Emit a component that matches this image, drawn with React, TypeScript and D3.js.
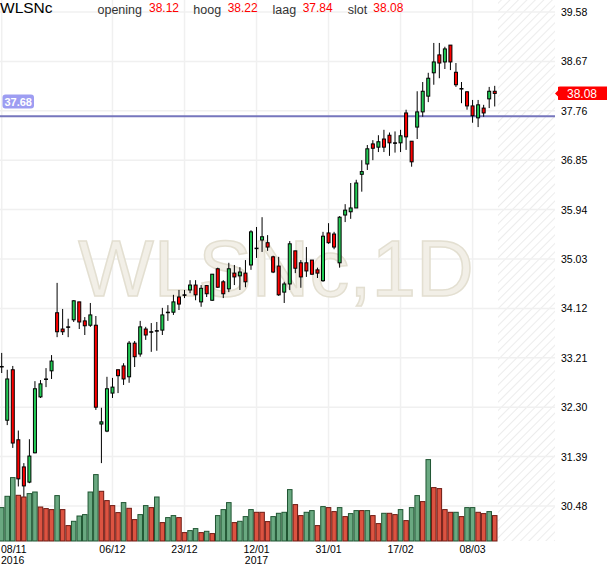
import React, { useEffect } from "react";
import * as d3 from "d3";

// chart size and plot area
const W = 610;
const H = 568;
const plotRight = 555;
const plotBottom = 541;

// trading days (Nov 2016 - Mar 2017), Boxing Day closed
const holidays = ["2016-12-26"];
const fmtKey = d3.timeFormat("%Y-%m-%d");
const dates = d3.timeDay
  .range(new Date(2016, 10, 8), new Date(2017, 2, 15))
  .filter((d) => d.getDay() % 6 !== 0 && !holidays.includes(fmtKey(d)))
  .map(fmtKey);

const tickDates = ["2016-11-08", "2016-12-06", "2016-12-23", "2017-01-12", "2017-01-31", "2017-02-17", "2017-03-08"];
const priceTicks = [30.48, 31.39, 32.3, 33.21, 34.12, 35.03, 35.94, 36.85, 37.76, 38.67, 39.58];

const open = [
  33.05, 32.06, 32.99, 31.70, 31.20, 30.92, 31.46, 32.49, 32.82, 32.97,
  34.04, 33.74, 33.78, 33.91, 34.24, 33.89, 33.81, 33.81, 31.99, 31.86,
  32.56, 32.99, 33.06, 32.86, 33.48, 33.28, 33.74, 33.69, 33.71, 33.72,
  34.05, 34.05, 34.33, 34.37, 34.46, 34.55, 34.24, 34.54, 34.27, 34.85,
  34.61, 34.48, 34.77, 34.72, 34.77, 34.92, 35.23, 35.38, 35.33, 35.07,
  34.90, 34.42, 34.57, 35.18, 34.96, 34.96, 35.01, 34.83, 34.63, 35.51,
  35.49, 34.96, 35.84, 35.90, 35.97, 36.59, 36.78, 37.15, 37.09, 37.24,
  37.31, 37.17, 37.17, 37.72, 37.20, 37.46, 37.74, 38.03, 38.46, 38.79,
  38.66, 38.97, 38.47, 38.17, 38.11, 37.85, 37.63, 37.81, 37.98, 38.12,
];
const high = [
  33.30, 32.99, 33.06, 31.87, 31.27, 31.71, 32.78, 32.80, 33.02, 33.26,
  34.59, 34.11, 33.93, 34.27, 34.24, 33.96, 34.22, 33.98, 32.29, 32.86,
  32.84, 32.99, 33.11, 33.52, 33.52, 33.89, 33.78, 33.85, 33.87, 34.13,
  34.18, 34.37, 34.46, 34.46, 34.64, 34.64, 34.55, 34.55, 34.75, 34.87,
  34.64, 34.96, 34.92, 34.88, 35.01, 35.56, 35.62, 35.80, 35.47, 35.09,
  35.07, 34.61, 35.36, 35.18, 35.01, 35.25, 35.01, 34.87, 35.53, 35.69,
  35.53, 35.82, 36.04, 36.43, 36.49, 36.85, 37.13, 37.22, 37.31, 37.41,
  37.36, 37.38, 37.41, 37.78, 37.20, 38.12, 38.29, 38.46, 39.01, 39.01,
  38.94, 38.97, 38.64, 38.29, 38.12, 37.96, 37.96, 37.87, 38.20, 38.22,
];
const low = [
  32.93, 31.97, 31.55, 30.84, 30.65, 30.90, 31.45, 32.47, 32.67, 32.82,
  33.59, 33.63, 33.59, 33.87, 33.74, 33.63, 33.78, 32.25, 31.27, 31.84,
  32.47, 32.56, 32.71, 32.75, 33.04, 33.23, 33.54, 33.32, 33.34, 33.63,
  33.89, 34.00, 34.09, 34.31, 34.40, 34.27, 34.15, 34.33, 34.26, 34.50,
  34.31, 34.42, 34.55, 34.46, 34.51, 34.83, 35.05, 35.16, 35.18, 34.77,
  34.35, 34.22, 34.46, 34.77, 34.50, 34.70, 34.74, 34.68, 34.61, 35.31,
  35.21, 34.87, 35.71, 35.77, 35.97, 36.27, 36.67, 36.85, 37.00, 37.00,
  36.93, 36.99, 37.00, 37.04, 36.73, 37.24, 37.65, 37.92, 38.24, 38.36,
  38.53, 38.51, 38.20, 37.90, 37.78, 37.54, 37.46, 37.65, 37.81, 37.84,
];
const close = [
  33.05, 32.82, 31.64, 30.98, 30.85, 31.40, 32.64, 32.73, 32.82, 33.15,
  33.69, 33.69, 33.78, 34.26, 33.87, 33.80, 34.00, 32.30, 32.03, 32.64,
  32.67, 32.88, 32.82, 33.48, 33.23, 33.78, 33.63, 33.69, 33.71, 34.00,
  34.05, 34.24, 34.20, 34.37, 34.55, 34.37, 34.49, 34.39, 34.75, 34.51,
  34.39, 34.85, 34.70, 34.79, 34.61, 35.53, 35.23, 35.44, 35.25, 34.79,
  34.37, 34.57, 35.31, 34.86, 34.70, 34.81, 34.75, 34.77, 35.45, 35.33,
  35.25, 35.80, 35.93, 35.97, 36.43, 36.64, 37.06, 37.07, 37.19, 37.09,
  37.17, 37.17, 37.30, 37.28, 36.82, 37.74, 38.12, 38.36, 38.66, 38.64,
  38.90, 38.66, 38.24, 38.17, 37.85, 37.67, 37.87, 37.72, 38.12, 38.08,
];
// volume in thousands
const volume = [
  334, 447, 634, 457, 440, 474, 490, 340, 324, 314,
  454, 314, 154, 197, 250, 264, 490, 664, 497, 404,
  354, 284, 384, 327, 214, 264, 354, 334, 440, 184,
  234, 254, 234, 84, 104, 124, 84, 97, 74, 254,
  314, 384, 184, 197, 244, 314, 287, 287, 194, 244,
  277, 287, 514, 364, 254, 287, 304, 154, 344, 334,
  294, 334, 244, 274, 304, 304, 304, 254, 174, 277,
  277, 264, 314, 204, 334, 454, 394, 814, 534, 524,
  314, 287, 287, 244, 334, 334, 287, 274, 294, 254,
];
// 1 = green volume bar, 0 = red
const volumeUp = [
  1, 1, 1, 0, 0, 1, 1, 0, 0, 0,
  1, 0, 0, 1, 1, 1, 1, 1, 0, 0,
  0, 0, 1, 0, 0, 1, 1, 0, 1, 0,
  1, 1, 0, 0, 1, 1, 0, 1, 0, 1,
  1, 1, 0, 1, 1, 1, 0, 0, 0, 1,
  1, 1, 1, 0, 0, 1, 1, 0, 1, 0,
  0, 1, 0, 1, 1, 0, 1, 0, 0, 1,
  0, 0, 1, 0, 1, 1, 0, 1, 0, 0,
  0, 0, 1, 0, 1, 1, 0, 0, 1, 0,
];

const refLine = 37.68;
const lastIdx = close.length - 1;

const font = "'Liberation Sans', Arial, sans-serif";

export default function App() {
  useEffect(() => {
    document.body.style.margin = "0";
  }, []);

  const x = d3.scaleBand<string>().domain(dates).range([-1.07, 497.5]).padding(0);
  const y = d3.scaleLinear().domain([30.48, 39.58]).range([506, 12]);
  const v = d3.scaleLinear().domain([0, 1000]).range([plotBottom, plotBottom - 100]);
  const bw = x.bandwidth();
  const cx = (d: string) => (x(d) ?? 0) + bw / 2;
  const parse = d3.timeParse("%Y-%m-%d");
  const fmtTick = d3.timeFormat("%d/%m");

  const candles = dates.map((d, i) => ({ d, o: open[i], h: high[i], l: low[i], c: close[i] }));

  return (
    <svg width={W} height={H} style={{ display: "block", fontFamily: font }}>
      <defs>
        <pattern id="hatch" width="6" height="6" patternUnits="userSpaceOnUse" patternTransform="rotate(45)">
          <line x1="0" y1="0" x2="0" y2="6" stroke="#ececec" strokeWidth="2" />
        </pattern>
      </defs>
      <rect x={0} y={0} width={W} height={H} fill="#fff" />
      <rect x={x(dates[lastIdx])! + bw + 0.5} y={0} width={plotRight - (x(dates[lastIdx])! + bw + 0.5)} height={plotBottom} fill="url(#hatch)" />

      {/* grid */}
      <g stroke="#f0f0f0" strokeWidth={1.5}>
        {priceTicks.map((t) => (
          <line key={t} x1={0} x2={plotRight} y1={y(t)} y2={y(t)} />
        ))}
        {tickDates.map((t) => (
          <line key={t} x1={cx(t)} x2={cx(t)} y1={0} y2={plotBottom} />
        ))}
      </g>

      {/* watermark */}
      <text x={276} y={296} textAnchor="middle" fontSize={80} fill="#f2efe7" stroke="#e3dfd1" strokeWidth={1.5} fontFamily={font}>
        WLSNc,1D
      </text>

      {/* volume */}
      <g>
        {dates.map((d, i) => (
          <rect
            key={d}
            x={(x(d) ?? 0) + 0.5}
            y={v(volume[i])}
            width={bw - 1}
            height={plotBottom - v(volume[i])}
            fill={volumeUp[i] ? "#6aa981" : "#dc5341"}
            stroke={volumeUp[i] ? "#1f5532" : "#6e1a12"}
            strokeWidth={1}
          />
        ))}
      </g>

      {/* reference line */}
      <line x1={0} x2={plotRight} y1={y(refLine) + 1} y2={y(refLine) + 1} stroke="#7676bd" strokeWidth={2} />

      {/* candles */}
      <g>
        {candles.map((k) => {
          const top = y(Math.max(k.o, k.c));
          const bot = y(Math.min(k.o, k.c));
          const fill = k.c > k.o ? "#22cc55" : k.c < k.o ? "#ff0000" : "#000";
          return (
            <g key={k.d}>
              <line x1={cx(k.d)} x2={cx(k.d)} y1={y(k.h)} y2={y(k.l)} stroke="#000" strokeWidth={1} />
              <rect x={cx(k.d) - 1.5} y={top} width={3} height={Math.max(bot - top, 0.5)} fill={fill} stroke="#000" strokeWidth={1} />
            </g>
          );
        })}
      </g>

      {/* ref label */}
      <rect x={2.5} y={94.5} width={31.5} height={14} rx={3} fill="#9d9df2" />
      <text x={18.2} y={105.5} textAnchor="middle" fontSize={11} fill="#fff" fontWeight="bold">
        {refLine.toFixed(2)}
      </text>

      {/* header */}
      <text x={0} y={13} fontSize={15.5} fill="#000">WLSNc</text>
      <g fontSize={12.5} fill="#333">
        <text x={97.5} y={14}>opening</text>
        <text x={193.3} y={14}>hoog</text>
        <text x={272.5} y={14}>laag</text>
        <text x={347.7} y={14}>slot</text>
      </g>
      <g fontSize={12} fill="#ff0000">
        <text x={149} y={12}>{open[lastIdx].toFixed(2)}</text>
        <text x={227.7} y={12}>{high[lastIdx].toFixed(2)}</text>
        <text x={302.7} y={12}>{low[lastIdx].toFixed(2)}</text>
        <text x={373.3} y={12}>{close[lastIdx].toFixed(2)}</text>
      </g>

      {/* right axis */}
      <g fontSize={10.5} fill="#000">
        {priceTicks.map((t) => (
          <text key={t} x={561} y={y(t) + 4}>{t.toFixed(2)}</text>
        ))}
      </g>
      <path
        d={`M555,${y(close[lastIdx])} L558,${y(close[lastIdx]) - 3} L558,${y(close[lastIdx]) - 6.5} Q558,${y(close[lastIdx]) - 7} 560,${y(close[lastIdx]) - 7} L607,${y(close[lastIdx]) - 7} L607,${y(close[lastIdx]) + 6.5} L560,${y(close[lastIdx]) + 6.5} Q558,${y(close[lastIdx]) + 6.5} 558,${y(close[lastIdx]) + 6} L558,${y(close[lastIdx]) + 3} Z`}
        fill="#ff0000"
      />
      <text x={582} y={y(close[lastIdx]) + 4.2} textAnchor="middle" fontSize={12} fill="#fff">
        {close[lastIdx].toFixed(2)}
      </text>

      {/* date axis */}
      <g fontSize={10.5} fill="#000">
        {tickDates.map((t, i) => {
          const dt = parse(t)!;
          const first = i === 0;
          const showYear = first || dt.getFullYear() !== parse(tickDates[i - 1])!.getFullYear();
          return (
            <g key={t}>
              <text x={first ? 1 : cx(t)} y={553} textAnchor={first ? "start" : "middle"}>
                {fmtTick(dt)}
              </text>
              {showYear && (
                <text x={first ? 1 : cx(t)} y={564} textAnchor={first ? "start" : "middle"}>
                  {dt.getFullYear()}
                </text>
              )}
            </g>
          );
        })}
      </g>
    </svg>
  );
}
